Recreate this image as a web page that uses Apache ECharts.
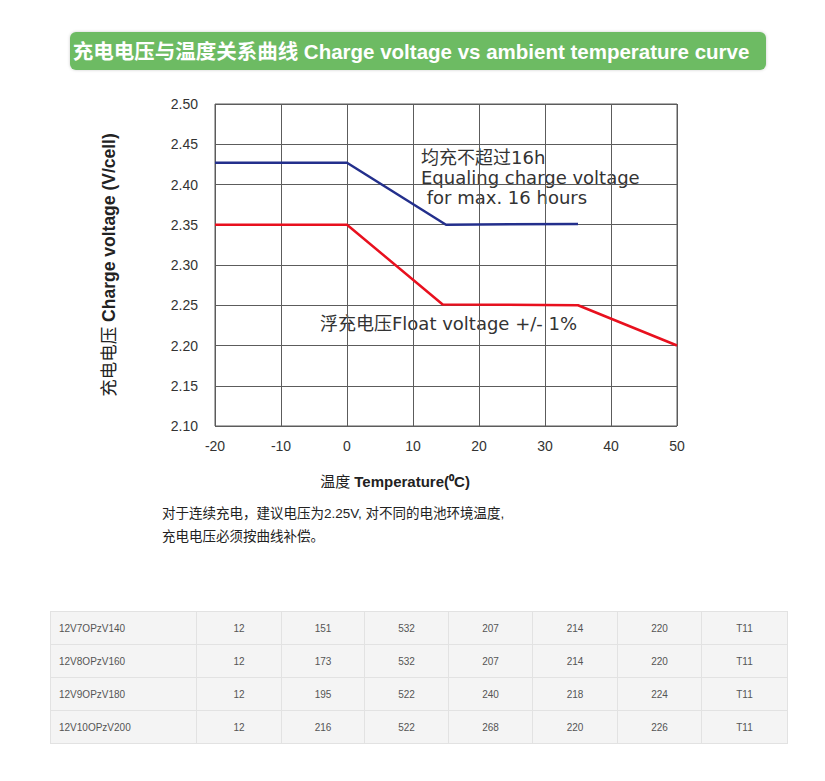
<!DOCTYPE html>
<html>
<head>
<meta charset="utf-8">
<script src="https://cdn.jsdelivr.net/npm/echarts@6/dist/echarts.min.js"></script>
<style>
  body { margin: 0; background: #fff; }
  #wrap { position: relative; width: 825px; height: 781px; }
  #main { position: absolute; left: 0; top: 0; width: 825px; height: 781px; }
  #spec { position: absolute; left: 50px; top: 611px; width: 737px; border-collapse: collapse; table-layout: fixed;
          font-family: "Liberation Sans", Arial, sans-serif; font-size: 10px; color: #555; background: #f4f4f4; }
  #spec td { border: 1px solid #e2e2e2; height: 32px; padding: 0; text-align: center; }
  #spec td:first-child { text-align: left; padding-left: 8px; }
</style>
</head>
<body>
<div id="wrap">
  <div id="main"></div>
  <table id="spec">
    <colgroup>
      <col style="width:146px"><col style="width:85px"><col style="width:83px"><col style="width:84px">
      <col style="width:84px"><col style="width:85px"><col style="width:84px"><col style="width:86px">
    </colgroup>
    <tbody id="specBody"></tbody>
  </table>
</div>
<script>
// 曲线数据 (温度 °C, 电压 V/cell)
const equalTemp = [-20, 0, 15, 35];
const equalVolt = [2.427, 2.427, 2.35, 2.351];
const floatTemp = [-20, 0, 14.5, 35, 50];
const floatVolt = [2.35, 2.35, 2.251, 2.25, 2.20];

// 表格数据
const models = ['12V7OPzV140', '12V8OPzV160', '12V9OPzV180', '12V10OPzV200'];
const colA = [12, 12, 12, 12];
const colB = [151, 173, 195, 216];
const colC = [532, 532, 522, 522];
const colD = [207, 207, 240, 268];
const colE = [214, 214, 218, 220];
const colF = [220, 220, 224, 226];
const colG = ['T11', 'T11', 'T11', 'T11'];

const FONT = '"Liberation Sans", Arial, "Noto Sans CJK SC", sans-serif';
const FONT_WIDE = '"DejaVu Sans", "Noto Sans CJK SC", sans-serif';

let chart = echarts.init(document.getElementById('main'), null, { renderer: 'svg' });

function pairs(xs, ys) {
  return xs.map((x, i) => [x, ys[i]]);
}

var option = {
  animation: false,
  grid: {
    left: 215, right: 148, top: 104, bottom: 355,
    show: true, borderColor: '#5c5c5c', borderWidth: 1
  },
  xAxis: {
    type: 'value', min: -20, max: 50, interval: 10,
    axisLine: { show: false }, axisTick: { show: false },
    splitLine: { lineStyle: { color: '#5c5c5c', width: 1 } },
    axisLabel: { color: '#333', fontSize: 14, fontFamily: FONT, margin: 13 }
  },
  yAxis: {
    type: 'value', min: 2.10, max: 2.50, interval: 0.05,
    axisLine: { show: false }, axisTick: { show: false },
    splitLine: { lineStyle: { color: '#5c5c5c', width: 1 } },
    axisLabel: { color: '#333', fontSize: 14, fontFamily: FONT, margin: 17,
      formatter: v => v.toFixed(2) },
    name: '{a|充电电压 }{b|Charge voltage (V/cell)}',
    nameLocation: 'middle', nameGap: 97,
    nameTextStyle: {
      rich: {
        a: { color: '#222', fontSize: 17.5, fontFamily: FONT },
        b: { color: '#222', fontSize: 17.5, fontWeight: 'bold', fontFamily: FONT }
      }
    }
  },
  series: [
    {
      name: 'equal', type: 'line', data: pairs(equalTemp, equalVolt),
      symbol: 'none', lineStyle: { color: '#232f8c', width: 2.5 }
    },
    {
      name: 'float', type: 'line', data: pairs(floatTemp, floatVolt),
      symbol: 'none', lineStyle: { color: '#e8101e', width: 2.5 }
    }
  ],
  graphic: [
    { type: 'rect', shape: { x: 70, y: 32, width: 696, height: 38, r: 6 },
      style: { fill: '#6dbb63', shadowBlur: 3, shadowColor: 'rgba(0,0,0,0.2)' } },
    { type: 'text', x: 411, y: 51,
      style: { text: '充电电压与温度关系曲线 Charge voltage vs ambient temperature curve',
        fill: '#fff', fontSize: 20.5, fontWeight: 'bold', fontFamily: FONT,
        align: 'center', verticalAlign: 'middle' } },
    { type: 'text', x: 421, y: 147,
      style: { text: '均充不超过16h\nEqualing charge voltage\n for max. 16 hours',
        fill: '#333', fontSize: 18, lineHeight: 20, fontFamily: FONT_WIDE } },
    { type: 'text', x: 320, y: 314,
      style: { text: '浮充电压Float voltage +/- 1%',
        fill: '#333', fontSize: 18, fontFamily: FONT_WIDE } },
    { type: 'text', x: 395, y: 481,
      style: { text: '{a|温度 }{b|Temperature(⁰C)}', align: 'center', verticalAlign: 'middle',
        rich: {
          a: { fill: '#222', fontSize: 15, fontFamily: FONT },
          b: { fill: '#222', fontSize: 15, fontWeight: 'bold', fontFamily: FONT }
        } } },
    { type: 'text', x: 162, y: 502,
      style: { text: '对于连续充电，建议电压为2.25V, 对不同的电池环境温度,\n充电电压必须按曲线补偿。',
        fill: '#222', fontSize: 13.5, lineHeight: 23, fontFamily: FONT } }
  ]
};
chart.setOption(option);

// 表格
let tbody = document.getElementById('specBody');
models.forEach((m, i) => {
  let tr = document.createElement('tr');
  [m, colA[i], colB[i], colC[i], colD[i], colE[i], colF[i], colG[i]].forEach(v => {
    let td = document.createElement('td');
    td.textContent = v;
    tr.appendChild(td);
  });
  tbody.appendChild(tr);
});
</script>
</body>
</html>
